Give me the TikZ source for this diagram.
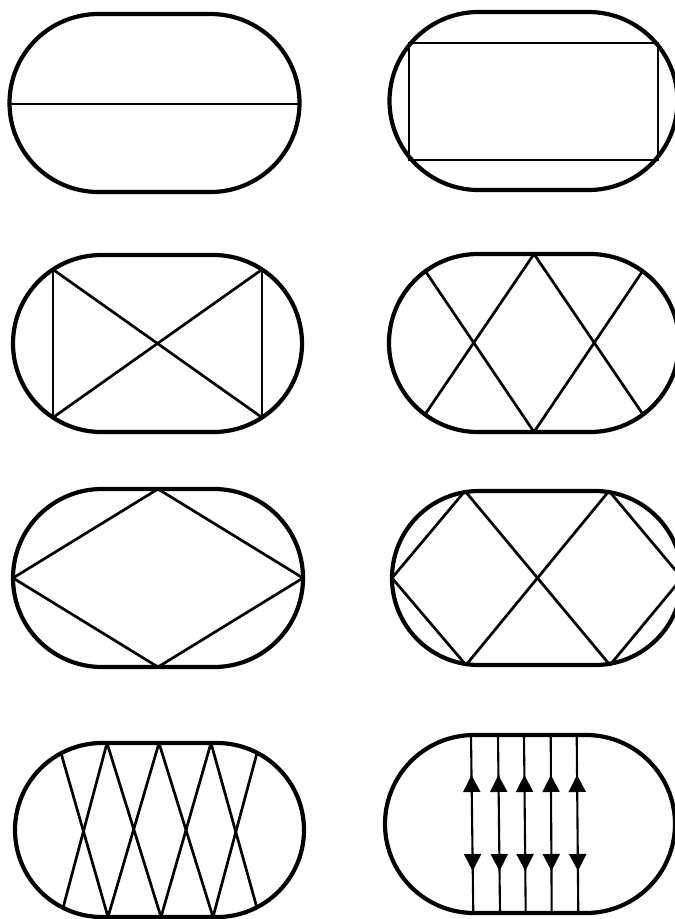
\documentclass[tikz,border=0pt]{standalone}
\usetikzlibrary{arrows.meta,decorations.markings}
\tikzset{
  outer/.style={line width=4.2pt, line join=round},
  inner/.style={line width=2.7pt, line cap=round},
  thin/.style={line width=2.1pt, line cap=round},
  flow/.style={line width=2.1pt, postaction=decorate, decoration={markings,
     mark=at position 0.2247 with {\arrowreversed{Triangle[length=17pt,width=17pt]}},
     mark=at position 0.764 with {\arrow{Triangle[length=17pt,width=17pt]}}}}
}
% stadium: center x, center y, end radius, half length of straight part
\newcommand\stad[4]{%
  \draw[outer] (#1-#4,#2-#3) -- (#1+#4,#2-#3)
     arc[start angle=90,end angle=-90,radius=#3pt]
     -- (#1-#4,#2+#3)
     arc[start angle=270,end angle=90,radius=#3pt] -- cycle;}
\begin{document}
\begin{tikzpicture}[x=1pt,y=-1pt]
\useasboundingbox (0,0) rectangle (675,919);
\clip (0,0) rectangle (675,919);
\fill[white] (0,0) rectangle (675,919);

% ---------- row 1 left: one chord ----------
\stad{154.5}{103}{89}{56}
\coordinate (a1) at (10,104);
\coordinate (a2) at (299,104);
\draw[inner] (a1) -- (a2);

% ---------- row 1 right: rectangle ----------
\stad{533.5}{101}{89}{55}
\coordinate (b1) at (409,43);
\coordinate (b2) at (658,43);
\coordinate (b3) at (658,160);
\coordinate (b4) at (409,160);
\draw[thin] (b1) -- (b2) -- (b3) -- (b4) -- cycle;

% ---------- row 2 left: rectangle with diagonals ----------
\stad{157.5}{343.5}{88.5}{56}
\coordinate (c1) at (53,269.5);
\coordinate (c2) at (262,269.5);
\coordinate (c3) at (262,417.5);
\coordinate (c4) at (53,417.5);
\draw[thin] (c1) -- (c4);
\draw[thin] (c2) -- (c3);
\draw[inner] (c1) -- (c3);
\draw[inner] (c2) -- (c4);

% ---------- row 2 right: double cross ----------
\stad{534}{343}{89}{56}
\coordinate (d1) at (534,254);
\coordinate (d2) at (534,432);
\coordinate (d3) at (426,272);
\coordinate (d4) at (426,413);
\coordinate (d5) at (642,272);
\coordinate (d6) at (642,413);
\draw[inner] (d3) -- (d2) -- (d5);
\draw[inner] (d4) -- (d1) -- (d6);

% ---------- row 3 left: diamond ----------
\stad{158}{578}{89}{56}
\coordinate (e1) at (13,578);
\coordinate (e2) at (158,489);
\coordinate (e3) at (303,578);
\coordinate (e4) at (158,667);
\draw[inner, line join=round] (e1) -- (e2) -- (e3) -- (e4) -- cycle;

% ---------- row 3 right: two diamonds ----------
\stad{537}{578}{87}{58}
\coordinate (f1) at (392,578);
\coordinate (f2) at (465,491);
\coordinate (f3) at (609,491);
\coordinate (f4) at (682,578);
\coordinate (f5) at (610,665);
\coordinate (f6) at (466,665);
\draw[inner, line join=round] (f2) -- (f1) -- (f6);
\draw[inner] (f2) -- (f5);
\draw[inner] (f3) -- (f6);
\draw[inner, line join=round] (f3) -- (f4) -- (f5);

% ---------- row 4 left: zigzag ----------
\stad{159.5}{830}{87}{57.5}
\coordinate (g1) at (61,753);
\coordinate (g2) at (107,743);
\coordinate (g3) at (159,743);
\coordinate (g4) at (211,743);
\coordinate (g5) at (257,753);
\coordinate (h1) at (63,908);
\coordinate (h2) at (108,917);
\coordinate (h3) at (161,917);
\coordinate (h4) at (213,917);
\coordinate (h5) at (257,908);
\draw[inner] (g1) -- (h2);
\draw[inner] (g2) -- (h1);
\draw[inner] (g2) -- (h3);
\draw[inner] (g3) -- (h2);
\draw[inner] (g3) -- (h4);
\draw[inner] (g4) -- (h3);
\draw[inner] (g4) -- (h5);
\draw[inner] (g5) -- (h4);

% ---------- row 4 right: parallel flow lines ----------
\stad{530}{824}{89}{56}
\foreach \i/\xt/\xb in {1/471/473.3, 2/498/500, 3/524/525.7, 4/550.7/551.7, 5/576.7/578.3}{
  \coordinate (p\i) at (\xt,735);
  \coordinate (q\i) at (\xb,913);
  \draw[flow] (p\i) -- (q\i);
}
\end{tikzpicture}
\end{document}
